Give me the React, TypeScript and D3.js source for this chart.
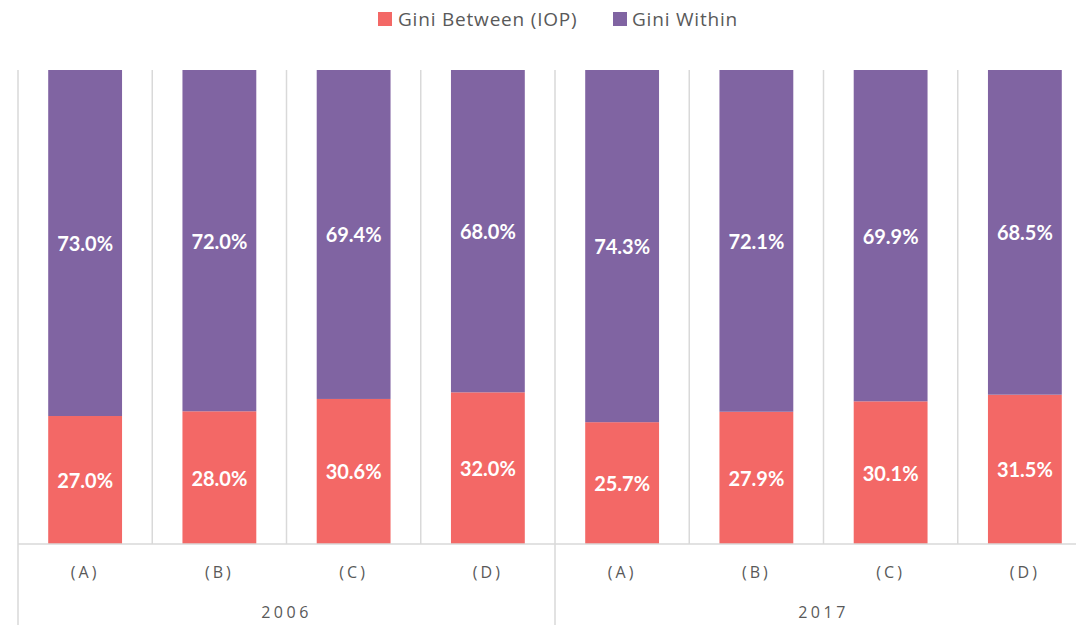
import React from 'react';
import * as d3 from 'd3';

const years = ['2006', '2017'];
const groups = ['(A)', '(B)', '(C)', '(D)'];
const giniBetween = [27.0, 28.0, 30.6, 32.0, 25.7, 27.9, 30.1, 31.5];
const giniWithin = [73.0, 72.0, 69.4, 68.0, 74.3, 72.1, 69.9, 68.5];
const seriesNames = ['Gini Between (IOP)', 'Gini Within'];
const colors = ['#f36866', '#8064a2'];

const W = 1076;
const H = 625;
const margin = { top: 70, left: 18, right: -16, bottom: 81 };
const labelFont = 'Lato, "Open Sans", sans-serif';
const textFont = '"Open Sans", sans-serif';

export default function App() {
  const keys = years.flatMap(y => groups.map(g => `${y}|${g}`));
  const x = d3.scaleBand<string>()
    .domain(keys)
    .range([margin.left, W - margin.right])
    .paddingInner(0.45)
    .paddingOuter(0.225);
  const step = x.step();
  const y = d3.scaleLinear().domain([0, 100]).range([H - margin.bottom, margin.top]);
  const base = y(0);

  const rows = keys.map((k, i) => ({ key: k, between: giniBetween[i], within: giniWithin[i] }));
  const stack = d3.stack<any>().keys(['between', 'within'])(rows);

  const cellLeft = (i: number) => margin.left + i * step;
  const grid = '#d9d9d9';

  return (
    <div style={{ position: 'absolute', left: 0, top: 0 }}>
      <svg width={W} height={H} style={{ display: 'block', fontFamily: textFont }}>
        {/* gridlines / category separators */}
        {d3.range(keys.length + 1).map(i => (
          <line key={'g' + i}
            x1={cellLeft(i)} x2={cellLeft(i)}
            y1={margin.top} y2={i % 4 === 0 ? H : base}
            stroke={grid} strokeWidth={1.5} />
        ))}
        {/* bars */}
        {stack.map((s, si) => (
          <g key={s.key} fill={colors[si]}>
            {s.map((d, i) => (
              <rect key={i} x={x(keys[i])} y={y(d[1])} width={x.bandwidth()} height={y(d[0]) - y(d[1])} />
            ))}
          </g>
        ))}
        {/* value labels */}
        {stack.map((s, si) => (
          <g key={'l' + s.key}>
            {s.map((d, i) => (
              <text key={i} x={x(keys[i])! + x.bandwidth() / 2} y={(y(d[0]) + y(d[1])) / 2}
                textAnchor="middle" dominantBaseline="central" fill="#fff"
                fontFamily={labelFont} fontWeight="bold" fontSize={20}>
                {(d[1] - d[0]).toFixed(1)}%
              </text>
            ))}
          </g>
        ))}
        {/* axis baseline */}
        <line x1={margin.left} x2={W - margin.right} y1={base} y2={base} stroke={grid} strokeWidth={1.5} />
        {/* category labels */}
        {keys.map((k, i) => (
          <text key={'c' + k} x={x(k)! + x.bandwidth() / 2} y={572}
            textAnchor="middle" dominantBaseline="central" fill="#595959"
            fontSize={16} letterSpacing={3}>
            {groups[i % 4]}
          </text>
        ))}
        {/* year labels */}
        {years.map((yr, j) => (
          <text key={yr} x={cellLeft(j * 4) + step * 2} y={612}
            textAnchor="middle" dominantBaseline="central" fill="#595959"
            fontSize={16} letterSpacing={3.5}>
            {yr}
          </text>
        ))}
        {/* legend */}
        <g>
          <rect x={378} y={12} width={14} height={14} fill={colors[0]} />
          <text x={398} y={19} dominantBaseline="central" fontSize={19} letterSpacing={0.8} fill="#595959">{seriesNames[0]}</text>
          <rect x={613} y={12} width={14} height={14} fill={colors[1]} />
          <text x={632} y={19} dominantBaseline="central" fontSize={19} letterSpacing={0.8} fill="#595959">{seriesNames[1]}</text>
        </g>
      </svg>
    </div>
  );
}
